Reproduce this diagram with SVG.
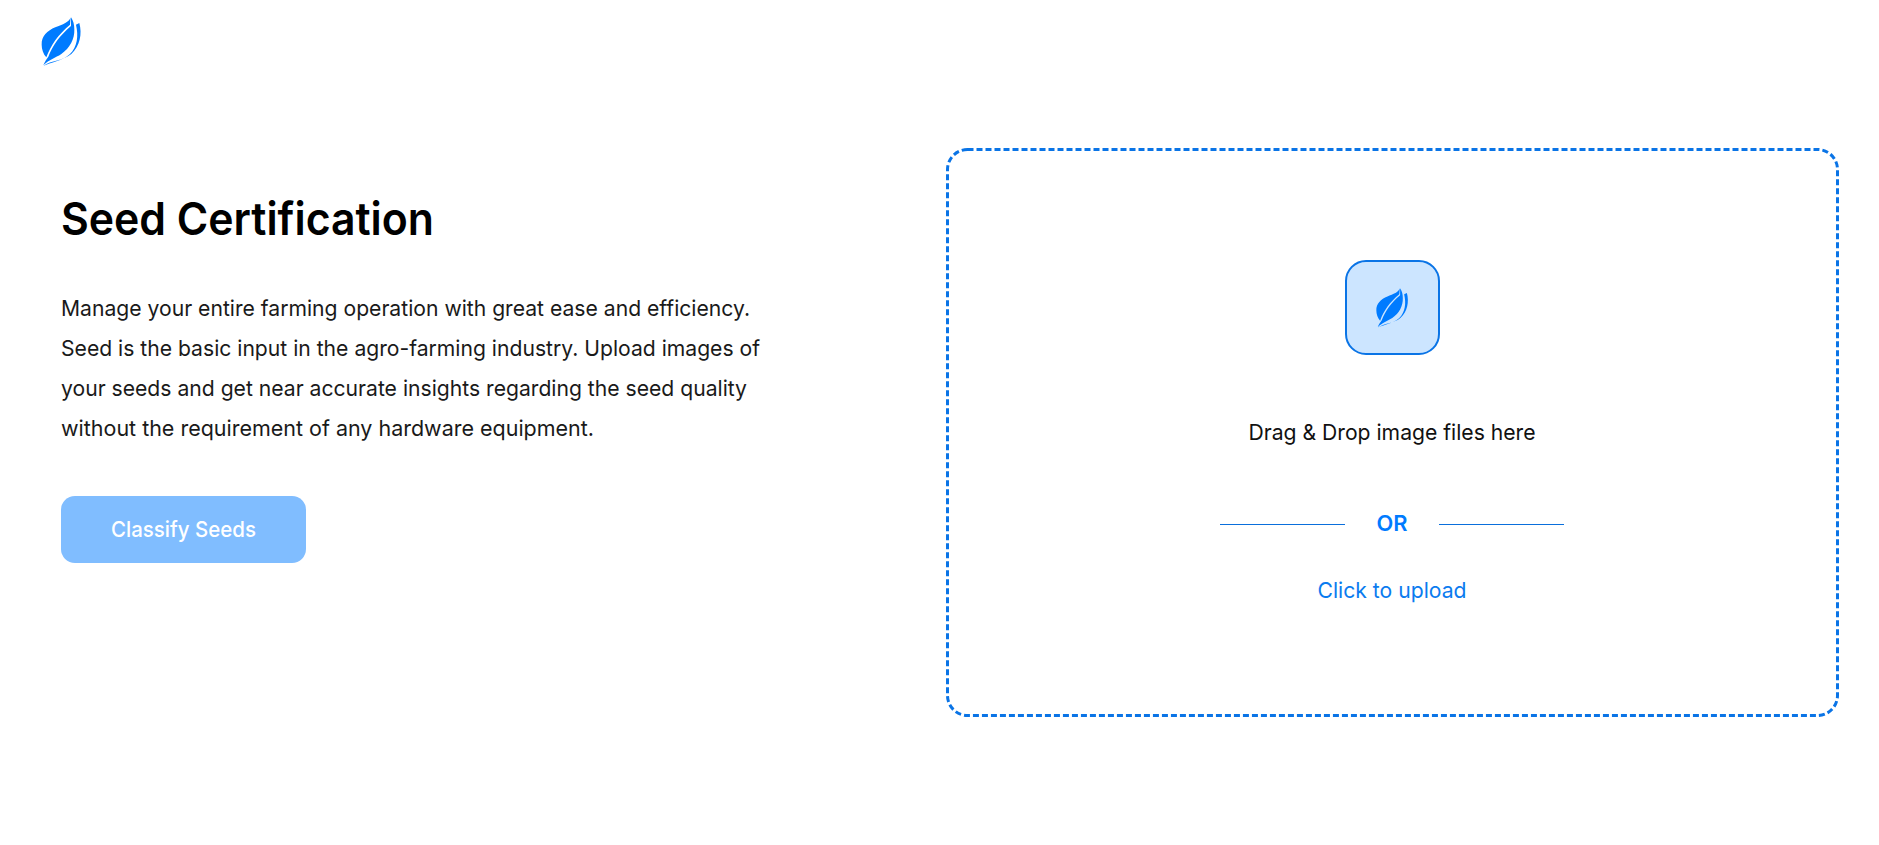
<svg xmlns="http://www.w3.org/2000/svg" width="1879" height="845" viewBox="0 0 1879 845">
<style>
text{font-family:"Inter","Roboto","Liberation Sans",sans-serif}
.p{font-size:22px;fill:#1a1a1a}
.c{text-anchor:middle}
.b{fill:#007bff}
</style>
<defs>
<g id="leaf">
<path class="b" d="M152,52C148,66 128,74 106,82C82,92 64,108 65,134C65,148 70,162 79,172C92,136 114,104 150,74Z"/>
<path class="b" d="M153,52C160,62 163,74 163,88C164,118 150,144 124,162C106,174 88,178 70,196C74,186 79,178 85,170C98,136 120,106 153,78Z"/>
<path class="b" d="M168,74L178,69C187,102 180,138 154,162C128,184 94,180 70,198C92,186 126,184 150,162C172,140 176,108 168,74Z"/>
</g>
</defs>
<rect width="1879" height="845" fill="#fff"/>
<g id="logo"><use href="#leaf" transform="translate(20 0) scale(.3333)"/></g>
<g id="intro">
<text x="61" y="235" font-size="45" font-weight="600" fill="#000" textLength="373" lengthAdjust="spacingAndGlyphs">Seed Certification</text>
<text class="p" x="61" y="316" textLength="689" lengthAdjust="spacingAndGlyphs">Manage your entire farming operation with great ease and efficiency.</text>
<text class="p" x="61" y="356" textLength="699" lengthAdjust="spacingAndGlyphs">Seed is the basic input in the agro-farming industry. Upload images of</text>
<text class="p" x="61" y="396" textLength="686" lengthAdjust="spacingAndGlyphs">your seeds and get near accurate insights regarding the seed quality</text>
<text class="p" x="61" y="436" textLength="533" lengthAdjust="spacingAndGlyphs">without the requirement of any hardware equipment.</text>
</g>
<g id="classify-button">
<rect x="61" y="496" width="245" height="67" rx="14" fill="#80bdff"/>
<text class="c" x="183.500" y="537" font-size="22" font-weight="500" fill="#fff" textLength="145" lengthAdjust="spacingAndGlyphs">Classify Seeds</text>
</g>
<g id="dropzone">
<rect x="947.500" y="149.500" width="890" height="566" rx="20" fill="none" stroke="#0a74e6" stroke-width="3" stroke-dasharray="6 3"/>
</g>
<g id="upload-icon">
<rect x="1346" y="261" width="93" height="93" rx="20" fill="#cce5ff" stroke="#0a74e6" stroke-width="2"/>
<use href="#leaf" transform="translate(1358.800 274.300) scale(.27)"/>
</g>
<g id="drop-text">
<text class="c" x="1392" y="440" font-size="22" fill="#111" textLength="287" lengthAdjust="spacingAndGlyphs">Drag &amp; Drop image files here</text>
</g>
<g id="divider">
<line x1="1220" y1="524.500" x2="1345" y2="524.500" stroke="#0a6fdc" stroke-width="1"/>
<line x1="1439" y1="524.500" x2="1564" y2="524.500" stroke="#0a6fdc" stroke-width="1"/>
<text class="c" x="1392" y="531" font-size="22" font-weight="600" fill="#007bff" textLength="31" lengthAdjust="spacingAndGlyphs">OR</text>
</g>
<g id="upload-link">
<text class="c" x="1392" y="598" font-size="22" fill="#0a7bef" textLength="149" lengthAdjust="spacingAndGlyphs">Click to upload</text>
</g>
</svg>
